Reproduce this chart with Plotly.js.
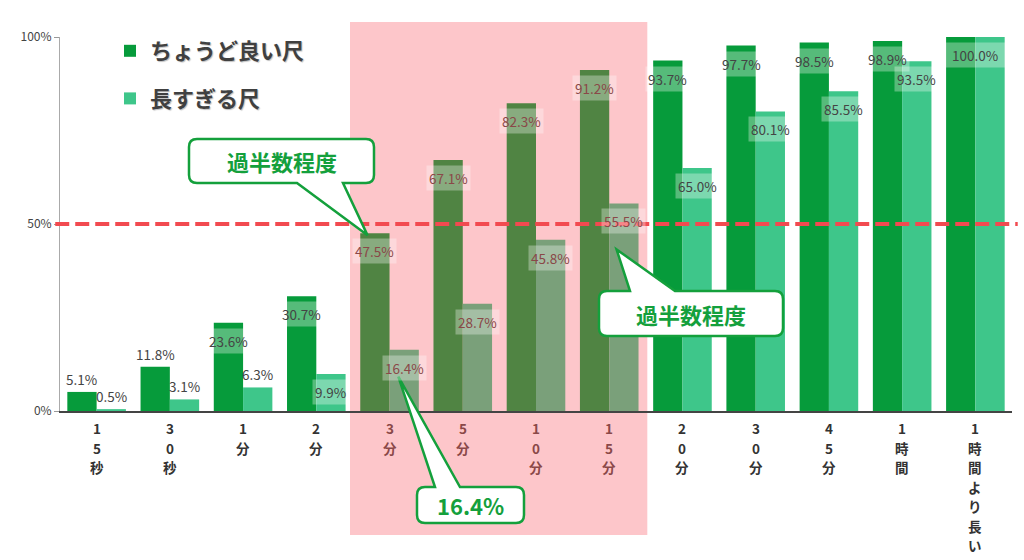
<!DOCTYPE html>
<html><head><meta charset="utf-8">
<script src="https://cdn.plot.ly/plotly-3.0.1.min.js"></script>
<style>html,body{margin:0;padding:0;background:#fff;}#chart{width:1024px;height:560px;}</style>
</head><body><div id="chart"></div>
<script>
// ---- data ----
const categories = ['15秒','30秒','1分','2分','3分','5分','10分','15分','20分','30分','45分','1時間','1時間より長い'];
const justRight = [5.1, 11.8, 23.6, 30.7, 47.5, 67.1, 82.3, 91.2, 93.7, 97.7, 98.5, 98.9, 100.0];
const tooLong   = [0.5, 3.1, 6.3, 9.9, 16.4, 28.7, 45.8, 55.5, 65.0, 80.1, 85.5, 93.5, 100.0];
const seriesNames = ['ちょうど良い尺', '長すぎる尺'];
const yTickVals = [0, 50, 100];
const yTickText = ['0%', '50%', '100%'];
const halfLine = 50;
const highlightFrom = 4, highlightTo = 7;
const calloutText = '過半数程度';
const calloutValue = '16.4%';

// ---- style ----
const FONT = 'Noto Sans CJK JP, Noto Sans, sans-serif';
const C_DARK = '#069b3b', C_LIGHT = '#3ec68a';
const C_DARK_H = '#508443', C_LIGHT_H = '#7aa07a';
const C_PINK = '#fdc6ca';
const C_TXT = '#444444', C_TXT_H = '#8a4848';
const C_BAL = '#14a03c';
const M = {l: 60, r: 12, t: 37, b: 149};
const W = 1024, H = 560;
const PW = W - M.l - M.r, PH = H - M.t - M.b;
const xr = [-0.5, categories.length - 0.5];
const yr = [0, 100];

const idx = categories.map((_, i) => i);
const inHL = i => i >= highlightFrom && i <= highlightTo;

// pixel helpers (for decoration only)
const px2paperX = p => (p - M.l) / PW;
const px2paperY = p => (H - M.b - p) / PH;
const dataX2px = x => M.l + (x - xr[0]) / (xr[1] - xr[0]) * PW;
const dataY2px = y => H - M.b - (y - yr[0]) / (yr[1] - yr[0]) * PH;

const traces = [
  {type: 'bar', name: seriesNames[0], x: idx, y: justRight, legendgroup: 'a',
   marker: {color: idx.map(i => inHL(i) ? C_DARK_H : C_DARK)}, hoverinfo: 'skip'},
  {type: 'bar', name: seriesNames[1], x: idx, y: tooLong, legendgroup: 'b',
   marker: {color: idx.map(i => inHL(i) ? C_LIGHT_H : C_LIGHT)}, hoverinfo: 'skip'}
];

const annotations = [];
// value labels
function addLabel(x, v, inside, col, width) {
  const a = {xref: 'x', yref: 'y', x: x, y: v, text: v.toFixed(1) + '%', showarrow: false,
    font: {family: FONT, size: 13.5, color: col}, bgcolor: inside ? 'rgba(255,255,255,0.32)' : 'rgba(0,0,0,0)',
    borderpad: 2, yanchor: 'middle', yshift: inside ? -18 : 13};
  if (width) a.width = width;
  annotations.push(a);
}
idx.forEach(i => {
  const col = inHL(i) ? C_TXT_H : C_TXT;
  if (justRight[i] === tooLong[i]) {
    addLabel(i, justRight[i], true, col, 80);
  } else {
    addLabel(i - 0.2, justRight[i], justRight[i] >= 15, col);
    addLabel(i + 0.2, tooLong[i], tooLong[i] >= 8, col);
  }
});
// category labels (stacked vertically)
idx.forEach(i => {
  const chars = Array.from(categories[i]);
  chars.forEach((ch, k) => {
    annotations.push({xref: 'x', yref: 'paper', x: i, y: 0, text: ch, showarrow: false,
      yanchor: 'middle', yshift: -17 - k * 19.5,
      font: {family: FONT, size: 13.5, weight: 'bold', color: inHL(i) ? C_TXT_H : '#333333'}});
  });
});

// callout balloons
function balloonPath(x0, y0, x1, y1, r, tail) {
  const P = (x, y) => px2paperX(x).toFixed(5) + ',' + px2paperY(y).toFixed(5);
  let d = 'M' + P(x0 + r, y0);
  if (tail.side === 'top') d += ' L' + P(tail.a, y0) + ' L' + P(tail.tip[0], tail.tip[1]) + ' L' + P(tail.b, y0);
  d += ' L' + P(x1 - r, y0) + ' Q' + P(x1, y0) + ' ' + P(x1, y0 + r);
  d += ' L' + P(x1, y1 - r) + ' Q' + P(x1, y1) + ' ' + P(x1 - r, y1);
  if (tail.side === 'bottom') d += ' L' + P(tail.b, y1) + ' L' + P(tail.tip[0], tail.tip[1]) + ' L' + P(tail.a, y1);
  d += ' L' + P(x0 + r, y1) + ' Q' + P(x0, y1) + ' ' + P(x0, y1 - r);
  d += ' L' + P(x0, y0 + r) + ' Q' + P(x0, y0) + ' ' + P(x0 + r, y0) + ' Z';
  return d;
}
const balloons = [
  {box: [189, 139, 374, 183], tail: {side: 'bottom', a: 297, b: 343,
     tip: [dataX2px(highlightFrom - 0.3), dataY2px(justRight[highlightFrom]) + 2]}, text: calloutText, size: 22},
  {box: [599, 291, 783, 336], tail: {side: 'top', a: 630, b: 675,
     tip: [dataX2px(highlightTo + 0.1), dataY2px(tooLong[highlightTo]) + 46]}, text: calloutText, size: 22},
  {box: [417, 487, 524, 523], tail: {side: 'top', a: 435, b: 460,
     tip: [dataX2px(highlightFrom + 0.12), dataY2px(tooLong[highlightFrom]) + 27]}, text: calloutValue, size: 22}
];
const shapes = [
  {type: 'rect', layer: 'below', xref: 'x', yref: 'paper', x0: highlightFrom - 0.54, x1: highlightTo + 0.52,
   y0: px2paperY(535), y1: px2paperY(22), fillcolor: C_PINK, line: {width: 0}},
  {type: 'line', layer: 'above', xref: 'paper', yref: 'y', x0: -0.005, x1: 1.006, y0: halfLine, y1: halfLine,
   line: {color: '#f24a50', width: 4, dash: '14px,6px'}}
];
balloons.forEach(b => {
  const [x0, y0, x1, y1] = b.box;
  shapes.push({type: 'path', layer: 'above', xref: 'paper', yref: 'paper',
    path: balloonPath(x0, y0, x1, y1, 8, b.tail), fillcolor: '#ffffff', line: {color: C_BAL, width: 2.5}});
  annotations.push({xref: 'paper', yref: 'paper', x: px2paperX((x0 + x1) / 2), y: px2paperY((y0 + y1) / 2),
    text: b.text, showarrow: false, xanchor: 'center', yanchor: 'middle',
    font: {family: FONT, size: b.size, weight: 'bold', color: C_BAL}});
});

const layout = {
  width: W, height: H, margin: M, paper_bgcolor: '#fff', plot_bgcolor: 'rgba(0,0,0,0)',
  barmode: 'group', bargap: 0.2, bargroupgap: 0,
  font: {family: FONT, color: C_TXT},
  xaxis: {range: xr, tickvals: idx, showticklabels: false, ticks: '', showgrid: false, zeroline: false,
          showline: true, linecolor: '#444', linewidth: 1.5},
  yaxis: {range: yr, tickvals: yTickVals, ticktext: yTickText, ticks: 'outside', ticklen: 5, tickcolor: '#999',
          showgrid: false, zeroline: false, showline: true, linecolor: '#aaa', linewidth: 1,
          tickfont: {family: FONT, size: 12, color: C_TXT}},
  legend: {x: px2paperX(110), y: px2paperY(30), xanchor: 'left', yanchor: 'top', bgcolor: 'rgba(0,0,0,0)',
           traceorder: 'grouped', tracegroupgap: 16,
           font: {family: FONT, size: 22, weight: 'bold', color: '#404040', shadow: '1px 1px 1px rgba(0,0,0,0.25)'}},
  shapes: shapes, annotations: annotations, showlegend: true
};
Plotly.newPlot('chart', traces, layout, {staticPlot: true, displayModeBar: false});
</script></body></html>
